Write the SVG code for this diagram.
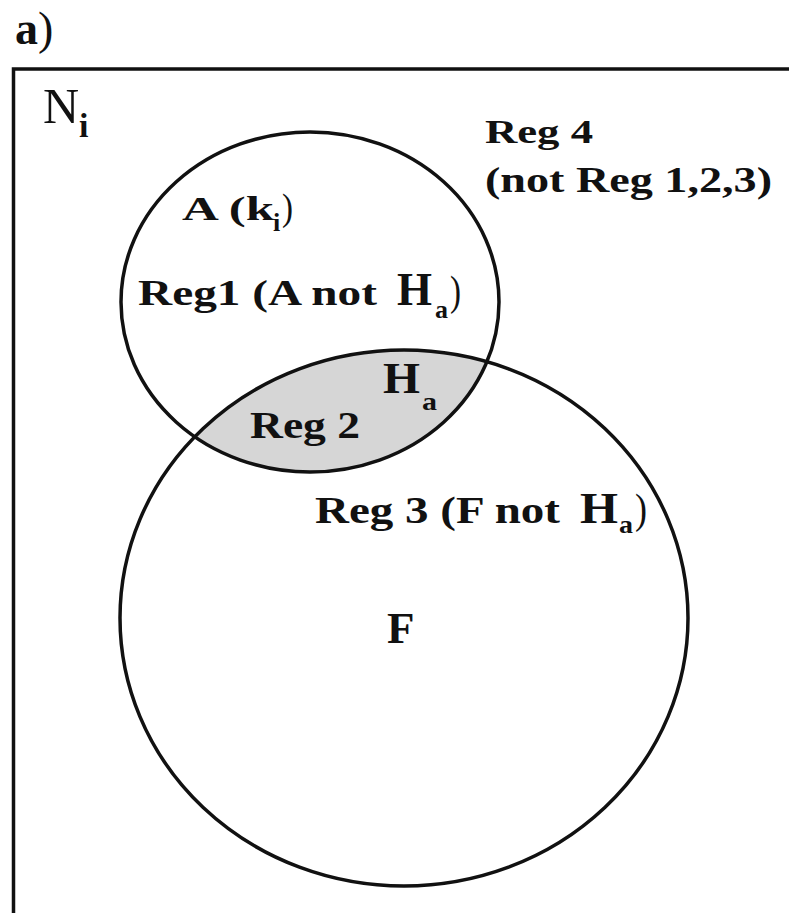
<svg xmlns="http://www.w3.org/2000/svg" width="789" height="913" viewBox="0 0 789 913">
<style>
.t{font-family:"Liberation Serif","Times New Roman",serif;font-weight:bold;fill:#111}
.r{font-family:"Liberation Serif","Times New Roman",serif;font-weight:normal;fill:#111}
.s{fill:none;stroke:#111;stroke-width:3.5}
</style>
<defs>
<clipPath id="clipF"><ellipse cx="404" cy="618" rx="284" ry="268"/></clipPath>
</defs>
<rect width="789" height="913" fill="#fff"/>
<g id="title">
<text class="t" x="15" y="44" font-size="46">a</text>
<text class="r" x="38" y="44" font-size="46">)</text>
</g>
<g id="frame">
<rect class="s" x="13.5" y="69" width="800" height="900"/>
<text class="r" x="43" y="123" font-size="50">N</text>
<text class="t" x="79" y="137" font-size="34">i</text>
</g>
<g id="lens">
<ellipse cx="310" cy="302" rx="189" ry="170" fill="#d6d6d6" clip-path="url(#clipF)"/>
</g>
<g id="setA">
<ellipse class="s" cx="310" cy="302" rx="189" ry="170"/>
<text class="t" x="182" y="220" font-size="34" textLength="92" lengthAdjust="spacingAndGlyphs">A (k</text>
<text class="t" x="273" y="231" font-size="26">i</text>
<text class="r" x="282" y="220" font-size="38" textLength="11" lengthAdjust="spacingAndGlyphs">)</text>
<text class="t" x="138" y="305" font-size="35" textLength="239" lengthAdjust="spacingAndGlyphs">Reg1 (A not</text>
<text class="t" x="397" y="305" font-size="46" textLength="35" lengthAdjust="spacingAndGlyphs">H</text>
<text class="t" x="435" y="318" font-size="26" textLength="13" lengthAdjust="spacingAndGlyphs">a</text>
<text class="r" x="450" y="305" font-size="42" textLength="11" lengthAdjust="spacingAndGlyphs">)</text>
</g>
<g id="setF">
<ellipse class="s" cx="404" cy="618" rx="284" ry="268"/>
<text class="t" x="250" y="438" font-size="38" textLength="110" lengthAdjust="spacingAndGlyphs">Reg 2</text>
<text class="t" x="383" y="393" font-size="44" textLength="37" lengthAdjust="spacingAndGlyphs">H</text>
<text class="t" x="422" y="410" font-size="26" textLength="15" lengthAdjust="spacingAndGlyphs">a</text>
<text class="t" x="315" y="523" font-size="37" textLength="245" lengthAdjust="spacingAndGlyphs">Reg 3 (F not</text>
<text class="t" x="580" y="523" font-size="44" textLength="38" lengthAdjust="spacingAndGlyphs">H</text>
<text class="t" x="619" y="533" font-size="26" textLength="14" lengthAdjust="spacingAndGlyphs">a</text>
<text class="r" x="635" y="523" font-size="42" textLength="12" lengthAdjust="spacingAndGlyphs">)</text>
<text class="t" x="387" y="643" font-size="45">F</text>
</g>
<g id="reg4">
<text class="t" x="485" y="143" font-size="34" textLength="108" lengthAdjust="spacingAndGlyphs">Reg 4</text>
<text class="t" x="485" y="192" font-size="35" textLength="287" lengthAdjust="spacingAndGlyphs">(not Reg 1,2,3)</text>
</g>
<g id="connectors"></g>
</svg>
